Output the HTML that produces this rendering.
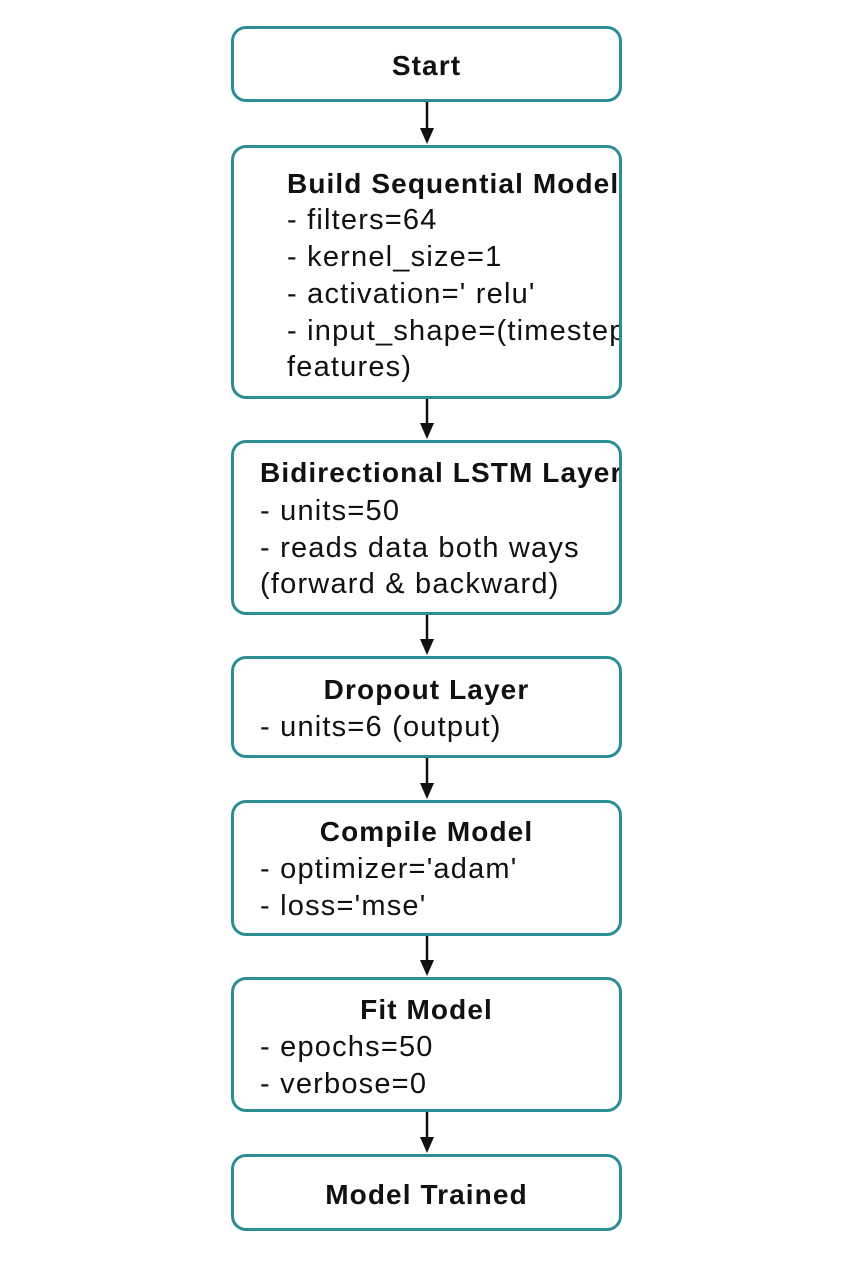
<!DOCTYPE html>
<html><head><meta charset="utf-8"><style>
body{margin:0;width:853px;height:1280px;background:#fff;position:relative;font-family:"Liberation Sans",sans-serif;color:#111;overflow:hidden}
.b{position:absolute;left:231px;border:3px solid #2b8e95;border-radius:15px;overflow:hidden;box-sizing:border-box;width:391px}
.t{position:absolute;white-space:nowrap;font-size:29px;letter-spacing:1.2px;line-height:30px;transform:translateY(-15px)}
.h{font-weight:bold;font-size:28px;letter-spacing:1.1px}
.c{left:0;width:385px;text-align:center}
</style></head><body>
<svg width="853" height="1280" style="position:absolute;left:0;top:0">
<g stroke="#111" stroke-width="2.5" fill="#111">
<line x1="427" y1="101" x2="427" y2="130"/><polygon points="420,128 434,128 427,144" stroke="none"/>
<line x1="427" y1="398" x2="427" y2="425"/><polygon points="420,423 434,423 427,439" stroke="none"/>
<line x1="427" y1="614" x2="427" y2="641"/><polygon points="420,639 434,639 427,655" stroke="none"/>
<line x1="427" y1="757" x2="427" y2="785"/><polygon points="420,783 434,783 427,799" stroke="none"/>
<line x1="427" y1="935" x2="427" y2="962"/><polygon points="420,960 434,960 427,976" stroke="none"/>
<line x1="427" y1="1111" x2="427" y2="1139"/><polygon points="420,1137 434,1137 427,1153" stroke="none"/>
</g></svg>
<div class="b" style="top:26px;height:76px"><div class="t h c" style="top:37px">Start</div></div>
<div class="b" style="top:145px;height:254px">
<div class="t h" style="left:53px;top:36px">Build Sequential Model</div>
<div class="t" style="left:53px;top:72px">- filters=64</div>
<div class="t" style="left:53px;top:109px">- kernel_size=1</div>
<div class="t" style="left:53px;top:146px">- activation=' relu'</div>
<div class="t" style="left:53px;top:183px">- input_shape=(timesteps,</div>
<div class="t" style="left:53px;top:219px">features)</div>
</div>
<div class="b" style="top:440px;height:175px">
<div class="t h" style="left:26px;top:30px">Bidirectional LSTM Layer</div>
<div class="t" style="left:26px;top:68px">- units=50</div>
<div class="t" style="left:26px;top:105px">- reads data both ways</div>
<div class="t" style="left:26px;top:141px">(forward &amp; backward)</div>
</div>
<div class="b" style="top:656px;height:102px">
<div class="t h c" style="top:31px">Dropout Layer</div>
<div class="t" style="left:26px;top:68px">- units=6 (output)</div>
</div>
<div class="b" style="top:800px;height:136px">
<div class="t h c" style="top:29px">Compile Model</div>
<div class="t" style="left:26px;top:66px">- optimizer='adam'</div>
<div class="t" style="left:26px;top:103px">- loss='mse'</div>
</div>
<div class="b" style="top:977px;height:135px">
<div class="t h c" style="top:30px">Fit Model</div>
<div class="t" style="left:26px;top:67px">- epochs=50</div>
<div class="t" style="left:26px;top:104px">- verbose=0</div>
</div>
<div class="b" style="top:1154px;height:77px"><div class="t h c" style="top:38px">Model Trained</div></div>
</body></html>
